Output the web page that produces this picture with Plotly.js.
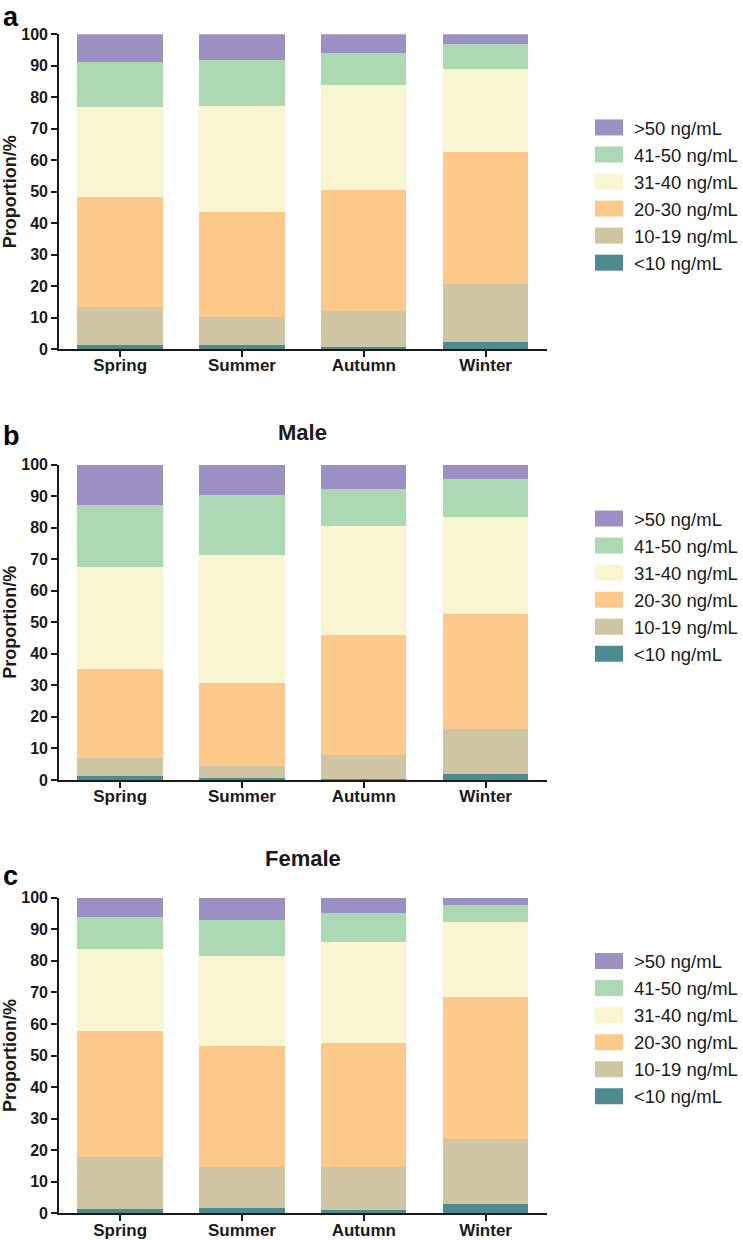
<!DOCTYPE html>
<html>
<head>
<meta charset="utf-8">
<script src="https://cdn.plot.ly/plotly-3.0.1.min.js"></script>
<style>
html,body{margin:0;padding:0;background:#fff;}
#chart{width:743px;height:1240px;}
</style>
</head>
<body>
<div id="chart"></div>
<script>
// Categories and series
var seasons = ["Spring", "Summer", "Autumn", "Winter"];
var levels = ["<10 ng/mL", "10-19 ng/mL", "20-30 ng/mL", "31-40 ng/mL", "41-50 ng/mL", ">50 ng/mL"];
var levelColors = ["#4e8a8f", "#cfc5a3", "#fcc98a", "#f8f5d0", "#acd8b3", "#9b8fc4"];
var panelTitles = ["", "Male", "Female"];
var panelLetters = ["a", "b", "c"];
var yTickVals = [0, 10, 20, 30, 40, 50, 60, 70, 80, 90, 100];

// Proportion (%) per level, per season (Spring, Summer, Autumn, Winter)
// Panel a: all
var allLt10   = [1.2, 1.2, 0.7, 2.3];
var all10_19  = [12.1, 9.1, 11.3, 18.4];
var all20_30  = [35.1, 33.2, 38.5, 41.9];
var all31_40  = [28.5, 33.7, 33.3, 26.4];
var all41_50  = [14.2, 14.5, 10.3, 7.8];
var allGt50   = [8.9, 8.3, 5.9, 3.2];
// Panel b: male
var maleLt10  = [1.2, 0.6, 0.2, 1.8];
var male10_19 = [5.6, 3.8, 7.7, 14.2];
var male20_30 = [28.5, 26.3, 38.2, 36.7];
var male31_40 = [32.2, 40.7, 34.5, 30.7];
var male41_50 = [19.7, 18.9, 11.8, 12.1];
var maleGt50  = [12.8, 9.7, 7.6, 4.5];
// Panel c: female
var femLt10   = [1.3, 1.7, 1.2, 2.9];
var fem10_19  = [16.5, 13.0, 13.5, 20.6];
var fem20_30  = [40.0, 38.2, 39.2, 45.1];
var fem31_40  = [25.9, 28.7, 32.0, 23.8];
var fem41_50  = [10.3, 11.2, 9.1, 5.2];
var femGt50   = [6.0, 7.2, 5.0, 2.4];

var panels = [
  [allLt10, all10_19, all20_30, all31_40, all41_50, allGt50],
  [maleLt10, male10_19, male20_30, male31_40, male41_50, maleGt50],
  [femLt10, fem10_19, fem20_30, fem31_40, fem41_50, femGt50]
];

var H = 1240, W = 743;
function py(px){ return 1 - px / H; }
var yDomains = [[py(349), py(34.3)], [py(779.9), py(464.7)], [py(1213.3), py(897.7)]];
var xDomain = [60 / W, 554 / W];
var legendCenters = [195.4, 586.5, 1029];
var titleY = [0, 433, 858];
var letterY = [0, 419, 859];

var traces = [];
panels.forEach(function(series, p){
  var sfx = p === 0 ? "" : String(p + 1);
  series.forEach(function(vals, i){
    traces.push({
      type: "bar",
      x: seasons,
      y: vals,
      name: levels[i],
      xaxis: "x" + sfx,
      yaxis: "y" + sfx,
      legend: "legend" + sfx,
      marker: {color: levelColors[i], line: {width: 0}},
      width: 0.7
    });
  });
});

var fontFam = "Liberation Sans, Arial, sans-serif";
var layout = {
  width: W, height: H,
  margin: {l: 0, r: 0, t: 0, b: 0},
  barmode: "stack",
  paper_bgcolor: "#fff",
  plot_bgcolor: "#fff",
  font: {family: fontFam, color: "#1a1a1a"},
  showlegend: true,
  annotations: []
};

for (var p = 0; p < 3; p++) {
  var sfx = p === 0 ? "" : String(p + 1);
  layout["xaxis" + sfx] = {
    domain: xDomain,
    anchor: "y" + sfx,
    type: "category",
    range: [-0.5, 3.5],
    showline: true, linecolor: "#1a1a1a", linewidth: 2,
    ticks: "outside", ticklen: 6, tickwidth: 2, tickcolor: "#1a1a1a",
    ticklabelstandoff: -6,
    tickfont: {family: fontFam, size: 17, color: "#1a1a1a", weight: "bold"},
    showgrid: false, zeroline: false, automargin: false, fixedrange: true
  };
  layout["yaxis" + sfx] = {
    domain: yDomains[p],
    anchor: "x" + sfx,
    range: [0, 100],
    tickvals: yTickVals,
    showline: true, linecolor: "#1a1a1a", linewidth: 2,
    ticks: "outside", ticklen: 6, tickwidth: 2, tickcolor: "#1a1a1a",
    tickfont: {family: fontFam, size: 16, color: "#1a1a1a", weight: "bold"},
    title: {text: "Proportion/%", font: {family: fontFam, size: 18, color: "#1a1a1a", weight: "bold"}, standoff: 6},
    showgrid: false, zeroline: false, automargin: false, fixedrange: true
  };
  layout["legend" + sfx] = {
    x: 592 / W, xanchor: "left",
    y: py(legendCenters[p]), yanchor: "middle",
    traceorder: "reversed",
    font: {family: fontFam, size: 18.5, color: "#1a1a1a"},
    bgcolor: "rgba(0,0,0,0)",
    itemwidth: 40
  };
  layout.annotations.push({
    xref: "paper", yref: "paper", x: 1 / W, y: py(letterY[p]),
    xanchor: "left", yanchor: "top", showarrow: false,
    text: panelLetters[p],
    font: {family: fontFam, size: 27, color: "#000", weight: "bold"}
  });
  if (panelTitles[p]) {
    layout.annotations.push({
      xref: "paper", yref: "paper", x: 307 / W, y: py(titleY[p]),
      xanchor: "center", yanchor: "middle", showarrow: false,
      text: panelTitles[p],
      font: {family: fontFam, size: 22, color: "#1a1a1a", weight: "bold"}
    });
  }
}

Plotly.newPlot("chart", traces, layout, {staticPlot: true, displayModeBar: false}).then(function(gd){
  gd.querySelectorAll(".legendpoints path").forEach(function(el){
    el.setAttribute("d", "M14,8H-14V-8H14Z");
    el.style.strokeWidth = "0";
  });
});
</script>
</body>
</html>
